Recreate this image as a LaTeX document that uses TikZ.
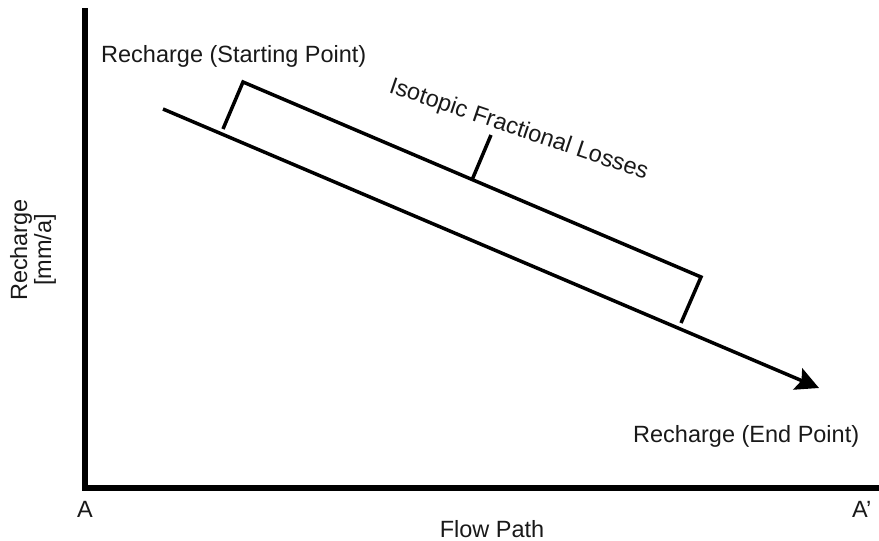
\documentclass[tikz,border=0pt]{standalone}
\usepackage{fontspec}
\setmainfont{Liberation Sans}
\usetikzlibrary{arrows.meta}

\tikzset{
  axisline/.style={line width=5.5pt, line cap=rect, line join=miter},
  flowline/.style={line width=3.5pt, line join=miter},
  lbl/.style={inner sep=0pt, font=\fontsize{23.5}{24}\selectfont, text=black!90},
}

\begin{document}
\begin{tikzpicture}[x=1pt, y=-1pt]
  \useasboundingbox (0,0) rectangle (879,541);

  % axes
  \coordinate (ytop) at (85,11);
  \coordinate (origin) at (85,488);
  \coordinate (xend) at (879,488);
  \draw[axisline] (ytop) -- (origin) -- (xend);

  % recharge trend along the flow path
  \coordinate (start) at (163,109);
  \coordinate (tip) at (819,388);
  \draw[flowline, -{Stealth[length=23pt, width=23pt, inset=4pt]}] (start) -- (tip);

  % bracket marking the fractional losses
  \coordinate (b1) at (223,129);
  \coordinate (b2) at (243,82);
  \coordinate (b3) at (701,277);
  \coordinate (b4) at (681,323);
  \draw[flowline] (b1) -- (b2) -- (b3) -- (b4);
  \coordinate (m1) at (472,180);
  \coordinate (m2) at (491,135);
  \draw[flowline] (m1) -- (m2);

  % labels
  \node[lbl, anchor=base west] (startlbl) at (101,62) {Recharge (Starting Point)};
  \node[lbl, anchor=base west] (endlbl) at (633,442) {Recharge (End Point)};
  \node[lbl, anchor=base west, rotate=-18.8] (losslbl) at (388,92) {Isotopic Fractional Losses};
  \node[lbl, anchor=base west] (alft) at (77,517) {A};
  \node[lbl, anchor=base west] (argt) at (852,517) {A'};
  \node[lbl, anchor=base] (xlbl) at (492,537) {Flow Path};
  \node[lbl, rotate=90, align=center] (ylbl) at (33,250) {Recharge\\[0pt][mm/a]};
\end{tikzpicture}
\end{document}
